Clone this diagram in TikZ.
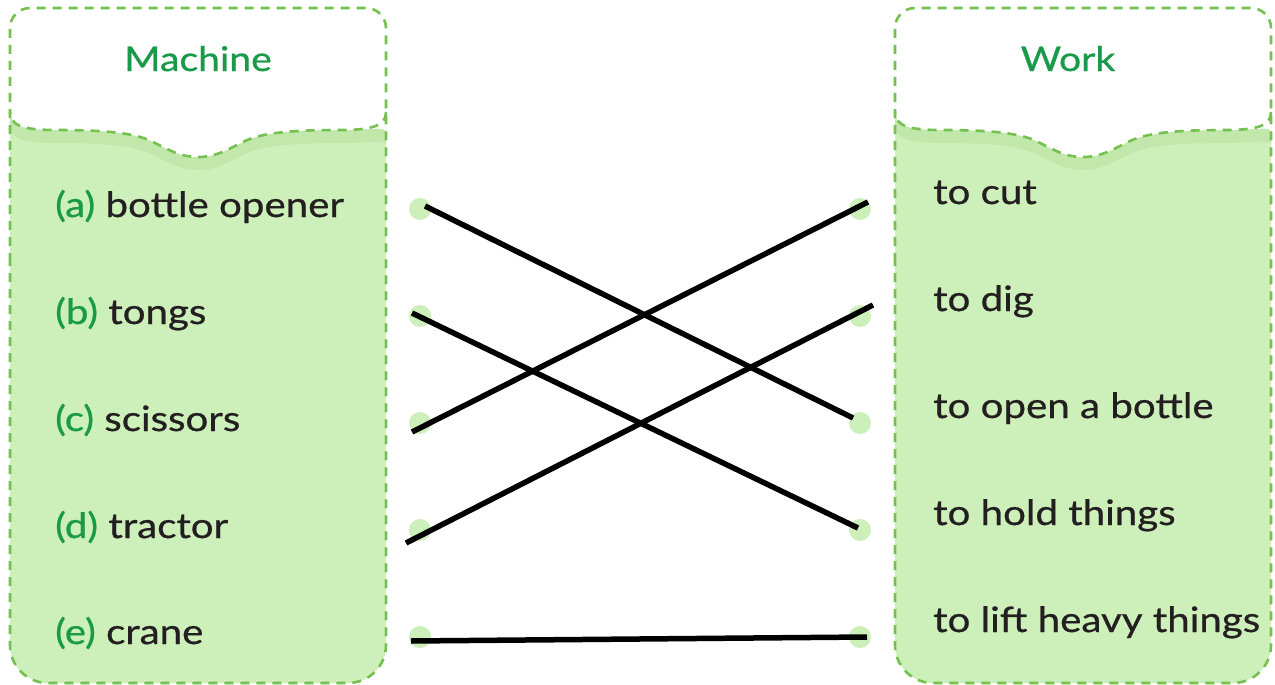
\documentclass[tikz,border=0pt]{standalone}
\usepackage{fontspec}
\setmainfont{Lato}[FakeStretch=1.15, FakeBold=0.7]
\definecolor{headgreen}{HTML}{189A48}
\definecolor{panelfill}{HTML}{CDEFBA}
\definecolor{panelshade}{HTML}{C1E8AA}
\definecolor{paneledge}{HTML}{74C150}
\definecolor{inkdark}{HTML}{231F20}
\tikzset{
  wave/.style={insert path={
    .. controls (376,126) and (362,130) .. (330,130)
    .. controls (280,130) and (252,133) .. (235,141)
    .. controls (215,151) and (205,157) .. (188,157)
    .. controls (171,157) and (161,151) .. (141,141)
    .. controls (124,133) and (96,130) .. (46,130)
    .. controls (14,130) and (0,126) .. (0,112)}},
  outline/.style={insert path={
    [rounded corners=20] (0,300) -- (0,8) -- (376,8) -- (376,300)
    [rounded corners=38] -- (376,683) -- (0,683) -- cycle}},
  header/.style={insert path={
    [rounded corners=20] (0,112) -- (0,8) -- (376,8) -- (376,112)
    [sharp corners] [wave] -- cycle}},
  edge/.style={draw=paneledge, line width=2.6pt, dash pattern=on 9pt off 7pt},
  panel/.pic={
    \fill[panelfill] [outline];
    \begin{scope}
      \clip [outline];
      \fill[panelshade, shift={(0,13)}] [header];
    \end{scope}
    \fill[white] [header];
    \path[edge] [outline];
    \path[edge] (376,112) [wave];
  },
  title/.style={font=\fontsize{34}{40}\selectfont, text=headgreen, inner sep=0pt, anchor=base},
  item/.style={font=\fontsize{35}{40}\selectfont, text=inkdark, inner sep=0pt, anchor=base west},
  dot/.style={circle, fill=panelfill, minimum size=22pt, inner sep=0pt},
  link/.style={draw=black, line width=5.5pt},
}
\begin{document}
\begin{tikzpicture}[x=1pt, y=-1pt]
  \useasboundingbox (0,0) rectangle (1275,685);
  % the two columns
  \pic at (10,0) {panel};
  \pic at (895,0) {panel};
  % column headings
  \node[title] (mtitle) at (198,71) {Machine};
  \node[title] (wtitle) at (1068,71) {Work};
  % machines
  \node[item] (la) at (55,217) {\textcolor{headgreen}{(a)} bottle opener};
  \node[item] (lb) at (55,324) {\textcolor{headgreen}{(b)} tongs};
  \node[item] (lc) at (55,431) {\textcolor{headgreen}{(c)} scissors};
  \node[item] (ld) at (55,538) {\textcolor{headgreen}{(d)} tractor};
  \node[item] (le) at (55,644) {\textcolor{headgreen}{(e)} crane};
  % work
  \node[item] (ra) at (933,204) {to cut};
  \node[item] (rb) at (933,311) {to dig};
  \node[item] (rc) at (933,418) {to open a bottle};
  \node[item] (rd) at (933,525) {to hold things};
  \node[item] (re) at (933,632) {to lift heavy things};
  % answer dots
  \foreach \i/\y in {1/209,2/316,3/423,4/530,5/637} {
    \node[dot] (L\i) at (420,\y) {};
    \node[dot] (R\i) at (860,\y) {};
  }
  % matching lines
  \draw[link] ([shift={(5,-3)}]L1.center) -- ([shift={(-7,-5)}]R3.center);
  \draw[link] ([shift={(-8,-3)}]L2.center) -- ([shift={(-2,-2)}]R4.center);
  \draw[link] ([shift={(-8,9)}]L3.center) -- ([shift={(8,-7)}]R1.center);
  \draw[link] ([shift={(-14,13)}]L4.center) -- ([shift={(13,-11)}]R2.center);
  \draw[link] ([shift={(-9,4)}]L5.center) -- ([shift={(7,0)}]R5.center);
\end{tikzpicture}
\end{document}
